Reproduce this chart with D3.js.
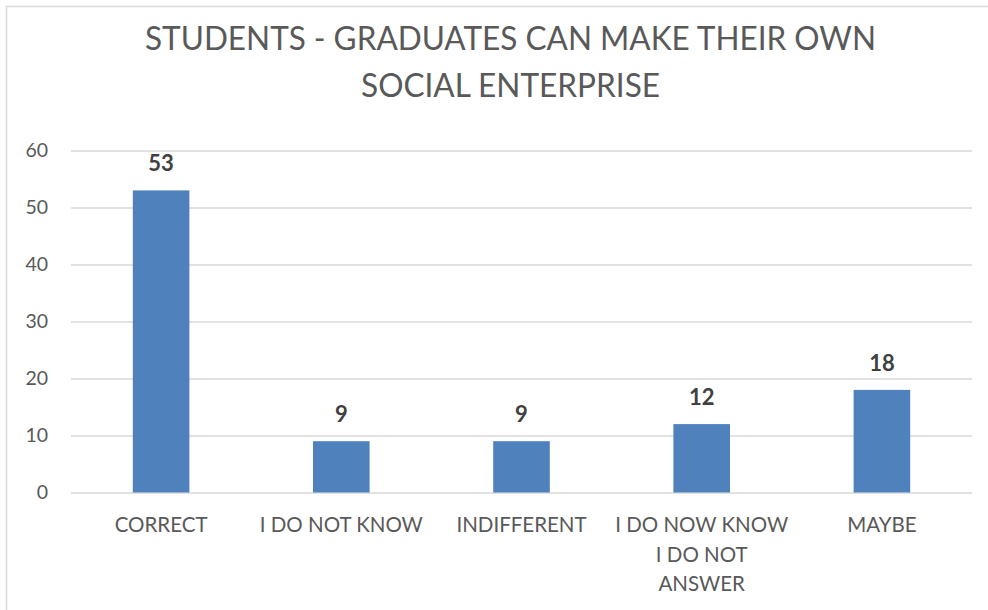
<!DOCTYPE html>
<html>
<head>
<meta charset="utf-8">
<script src="https://cdn.jsdelivr.net/npm/d3@7"></script>
<style>
  html, body { margin: 0; padding: 0; background: #ffffff; }
  svg { display: block; }
</style>
</head>
<body>
<svg id="chart" width="988" height="610"></svg>
<script>
// Survey responses
const categories = [
  ["CORRECT"],
  ["I DO NOT KNOW"],
  ["INDIFFERENT"],
  ["I DO NOW KNOW", "I DO NOT", "ANSWER"],
  ["MAYBE"]
];
const values = [53, 9, 9, 12, 18];
const yTicks = [0, 10, 20, 30, 40, 50, 60];
const titleLines = ["STUDENTS - GRADUATES CAN MAKE THEIR OWN", "SOCIAL ENTERPRISE"];

const FONT = "Lato, 'Open Sans', sans-serif";
const TEXT = "#595959";
const GRID = "#d9d9d9";
const BAR = "#4f81bd";

const svg = d3.select("#chart");

// chart frame
svg.append("rect")
  .attr("x", 6.5).attr("y", 6.5)
  .attr("width", 1000).attr("height", 620)
  .attr("fill", "#ffffff")
  .attr("stroke", GRID).attr("stroke-width", 1.5);

const plot = { left: 71, right: 972, top: 150.5, bottom: 492.5 };

const x = d3.scaleBand()
  .domain(d3.range(values.length))
  .range([plot.left, plot.right])
  .paddingInner(0.686)
  .paddingOuter(0.343);

const y = d3.scaleLinear()
  .domain([0, 60])
  .range([plot.bottom, plot.top]);

// title
const title = svg.append("g");
titleLines.forEach((line, i) => {
  title.append("text")
    .attr("x", 510.5)
    .attr("y", 49.5 + i * 47)
    .attr("text-anchor", "middle")
    .attr("font-family", FONT)
    .attr("font-weight", 400)
    .attr("font-size", 33)
    .attr("fill", TEXT)
    .attr("textLength", i === 0 ? 731 : 299)
    .attr("lengthAdjust", "spacingAndGlyphs")
    .text(line);
});

// horizontal gridlines + value axis labels
const yAxis = d3.axisLeft(y)
  .tickValues(yTicks)
  .tickSize(-(plot.right - plot.left))
  .tickPadding(23)
  .tickFormat(d3.format("d"));

const gy = svg.append("g")
  .attr("transform", `translate(${plot.left},0)`)
  .call(yAxis);
gy.select(".domain").remove();
gy.selectAll(".tick line")
  .attr("stroke", GRID)
  .attr("stroke-width", 1.5);
gy.selectAll(".tick text")
  .attr("font-family", FONT)
  .attr("font-size", 19.5)
  .attr("fill", TEXT);

// bars
svg.append("g")
  .selectAll("rect")
  .data(values)
  .join("rect")
  .attr("x", (d, i) => x(i))
  .attr("y", d => y(d))
  .attr("width", x.bandwidth())
  .attr("height", d => y(0) - y(d))
  .attr("fill", BAR);

// value labels
svg.append("g")
  .selectAll("text")
  .data(values)
  .join("text")
  .attr("x", (d, i) => x(i) + x.bandwidth() / 2)
  .attr("y", d => y(d) - 19)
  .attr("text-anchor", "middle")
  .attr("font-family", FONT)
  .attr("font-weight", 700)
  .attr("font-size", 22)
  .attr("fill", "#404040")
  .text(d => d);

// category labels
const gx = svg.append("g");
categories.forEach((lines, i) => {
  const t = gx.append("text")
    .attr("text-anchor", "middle")
    .attr("font-family", FONT)
    .attr("font-size", 20.5)
    .attr("fill", TEXT);
  lines.forEach((ln, j) => {
    t.append("tspan")
      .attr("x", x(i) + x.bandwidth() / 2)
      .attr("y", 532 + j * 29.5)
      .text(ln);
  });
});
</script>
</body>
</html>
